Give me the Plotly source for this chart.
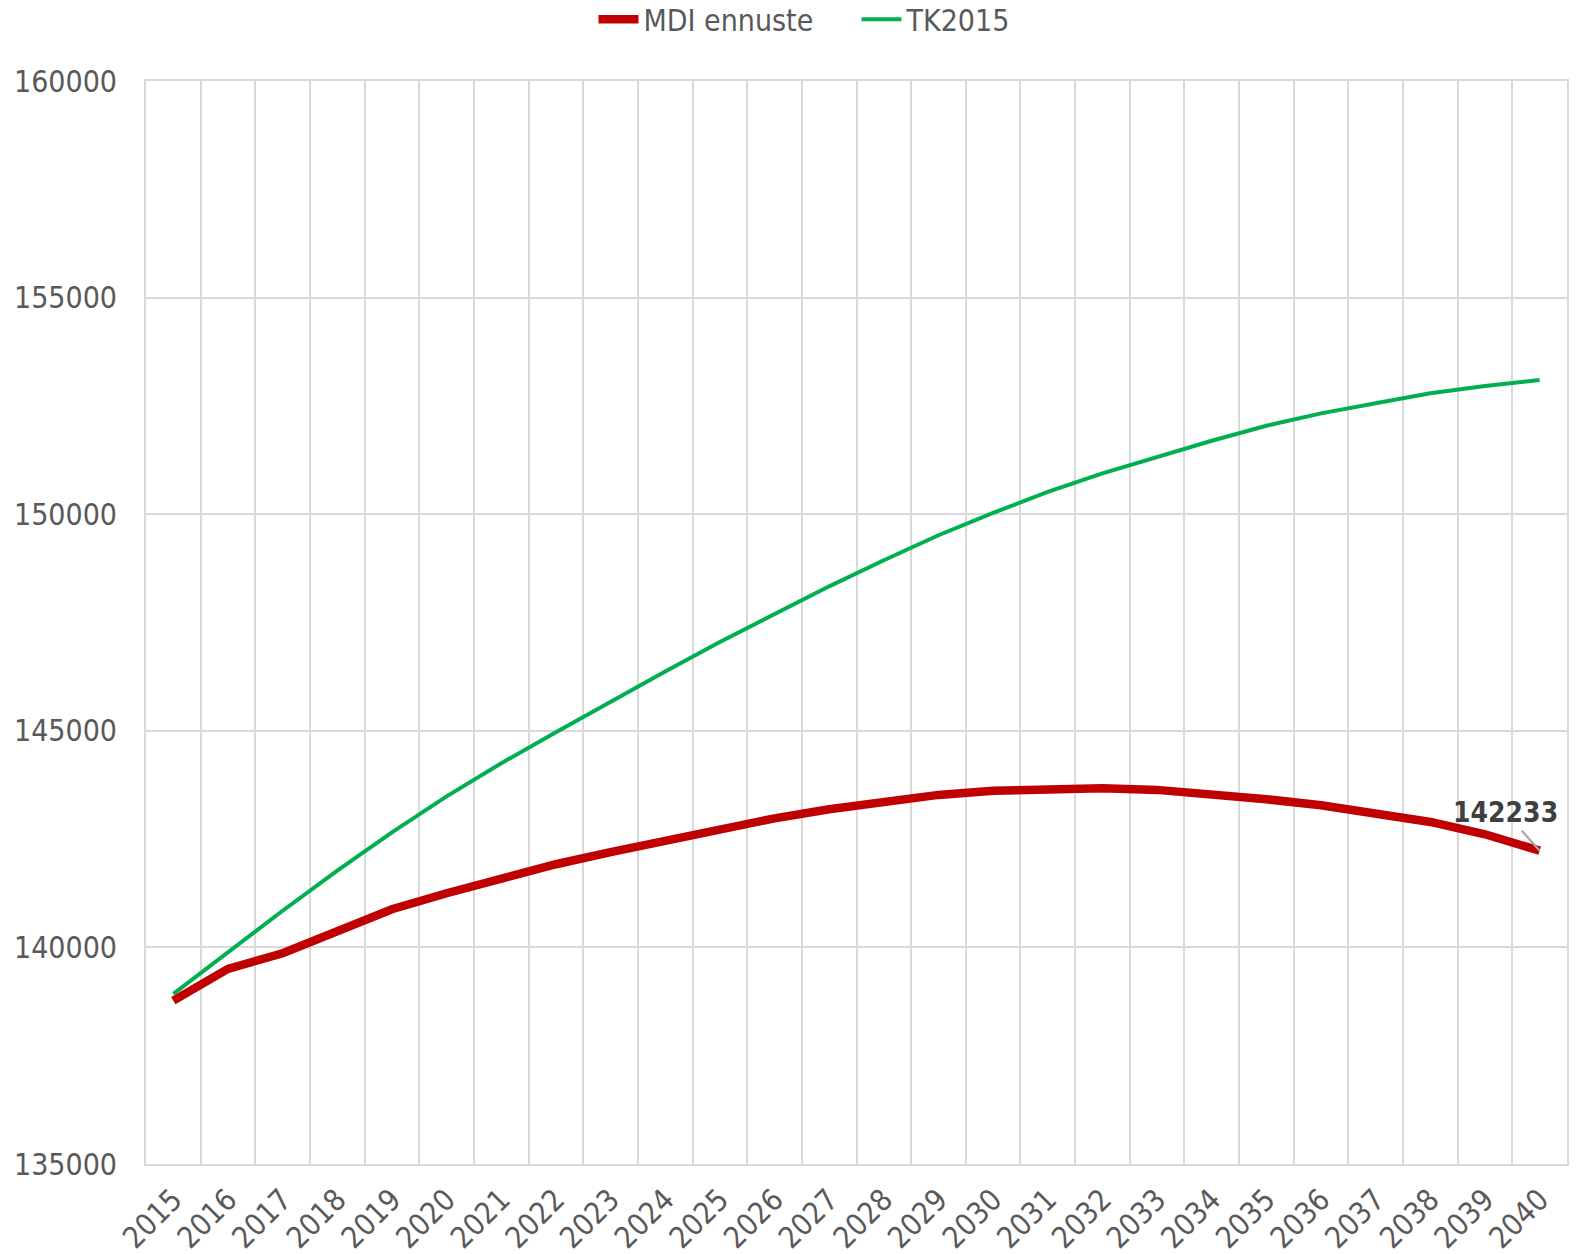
import plotly.graph_objects as go

years = [str(y) for y in range(2015, 2041)]
mdi_ennuste = [138770, 139505, 139865, 140370, 140880, 141250, 141610, 141920,
               142200, 142475, 142745, 142980, 143190, 143365, 143520, 143615,
               143667, 143675, 143636, 143551, 143420, 143282, 143112, 142896,
               142611, 142233]
tk2015 = [138928, 139890, 140846, 141770, 142655, 143487, 144250, 144967,
          145680, 146370, 147048, 147704, 148335, 148936, 149514, 150030,
          150516, 150941, 151325, 151695, 152042, 152328, 152559, 152790,
          152959, 153098]
y_ticks = [135000, 140000, 145000, 150000, 155000, 160000]
last_label = "142233"

FONT = "DejaVu Sans Condensed, DejaVu Sans, Liberation Sans, sans-serif"
TXT = "#595959"
GRID = "#D9D9D9"

fig = go.Figure()
fig.add_trace(go.Scatter(x=years, y=mdi_ennuste, mode="lines", name="MDI ennuste",
                         line=dict(color="#C00000", width=8.5)))
fig.add_trace(go.Scatter(x=years, y=tk2015, mode="lines", name="TK2015",
                         line=dict(color="#00B050", width=4)))

fig.add_annotation(x=len(years) - 1, y=mdi_ennuste[-1], xref="x", yref="y",
                   text="<b>" + last_label + "</b>",
                   showarrow=True, arrowhead=0, arrowwidth=2.2, arrowcolor="#A6A6A6",
                   ax=-34, ay=-38, font=dict(family=FONT, size=28, color="#404040"))

fig.update_layout(
    width=1585, height=1254,
    margin=dict(l=146, r=18, t=81, b=90, autoexpand=False),
    plot_bgcolor="white", paper_bgcolor="white",
    font=dict(family=FONT, size=30, color=TXT),
    showlegend=True,
    legend=dict(orientation="h", x=0.5, xanchor="center", y=1.057, yanchor="middle",
                font=dict(family=FONT, size=30, color=TXT), itemwidth=40,
                entrywidth=208, tracegroupgap=0),
    xaxis=dict(type="category", range=[-0.5, 25.5], tickson="boundaries",
               showgrid=True, gridcolor=GRID, gridwidth=2, ticks="", automargin=False,
               tickangle=-45, showline=True, linecolor=GRID, linewidth=2, mirror=True,
               tickfont=dict(family=FONT, size=30, color=TXT), ticklabelstandoff=4),
    yaxis=dict(range=[135000, 160000], tickvals=y_ticks, ticktext=[str(v) for v in y_ticks],
               showgrid=True, gridcolor=GRID, gridwidth=2, zeroline=False, ticks="",
               automargin=False,
               showline=True, linecolor=GRID, linewidth=2, mirror=True,
               tickfont=dict(family=FONT, size=30, color=TXT), ticklabelstandoff=21),
)

fig.write_html("out.html", config={"displayModeBar": False},
               post_script="document.body.style.margin='0';")
